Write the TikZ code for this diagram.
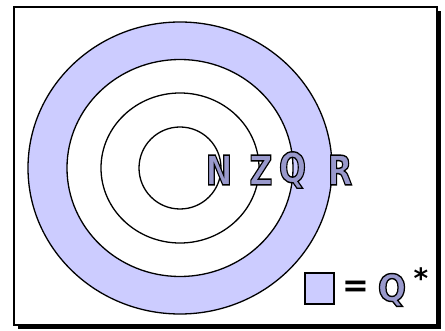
\documentclass[tikz,border=0pt]{standalone}
\usepackage{fontspec}
\setsansfont{DejaVu Sans}
\definecolor{ringblue}{RGB}{204,204,255}
\definecolor{letterblue}{RGB}{153,153,204}
% filled letter with a black stroke round it
\newcommand{\outlined}[1]{\textcolor{letterblue}{\special{pdf:literal direct 0 G 2 Tr 1.4 w}#1\special{pdf:literal direct 0 Tr}}}

\begin{document}
\begin{tikzpicture}[
    x=1pt, y=-1pt,
    circle line/.style={line width=1.3pt},
    ring fill/.style={fill=ringblue},
    set letter/.style={inner sep=0pt, font=\sffamily\bfseries\fontsize{41}{41}\selectfont},
    legend sign/.style={inner sep=0pt, font=\sffamily\bfseries}
]
    \useasboundingbox (0,0) rectangle (445,331);

    % Frame with shadow
    \fill[black] (18,11) rectangle (441,329);
    \draw[fill=white, line width=1.4pt] (14,7) rectangle (437,325);

    % Circles
    \coordinate (O) at (180,168);
    \draw[circle line, ring fill] (O) ellipse [x radius=152, y radius=146];
    \draw[circle line, fill=white] (O) ellipse [x radius=113, y radius=108.5];
    \draw[circle line] (O) ellipse [x radius=79, y radius=75];
    \draw[circle line] (O) ellipse [x radius=41, y radius=41];

    % Sets
    \node[set letter] (N) at (219,170) {\scalebox{0.78}[1]{\outlined{N}}};
    \node[set letter] (Z) at (261,170) {\scalebox{0.78}[1]{\outlined{Z}}};
    \node[set letter] (Q) at (292.5,170) {\scalebox{0.78}[1]{\outlined{Q}}};
    \node[set letter] (R) at (340,170) {\scalebox{0.78}[1]{\outlined{R}}};

    % Legend
    \node[draw, line width=1.3pt, ring fill, minimum width=29pt, minimum height=31pt, inner sep=0pt] (key) at (319.5,288.5) {};
    \node[legend sign, font=\sffamily\bfseries\fontsize{32}{32}\selectfont] (eq) at (356,289) {=};
    \node[set letter, font=\sffamily\bfseries\fontsize{37}{37}\selectfont] (Qstar) at (392,290) {\scalebox{0.9}[1]{\outlined{Q}}};
    \node[legend sign, font=\sffamily\bfseries\fontsize{28}{28}\selectfont] (star) at (421,278) {*};
\end{tikzpicture}
\end{document}
